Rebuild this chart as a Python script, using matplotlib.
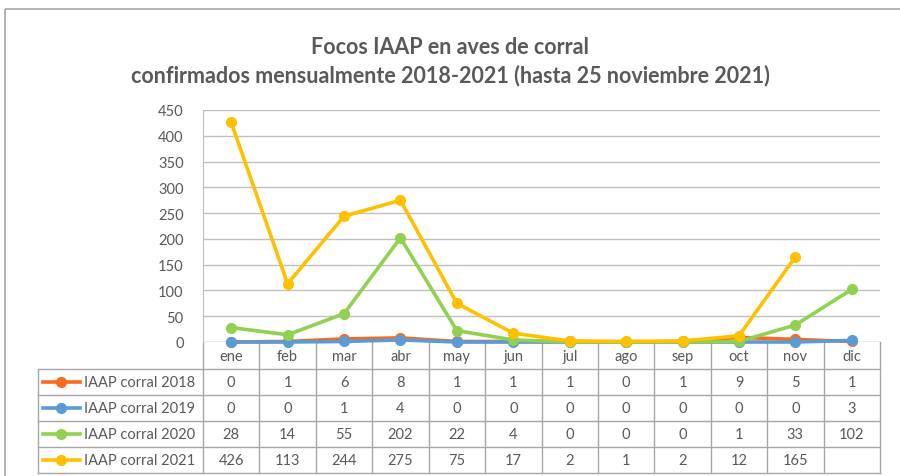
import numpy as np
import matplotlib.pyplot as plt
from matplotlib.patches import Rectangle
from matplotlib.lines import Line2D

months = ['ene', 'feb', 'mar', 'abr', 'may', 'jun', 'jul', 'ago', 'sep', 'oct', 'nov', 'dic']
labels = ['IAAP corral 2018', 'IAAP corral 2019', 'IAAP corral 2020', 'IAAP corral 2021']
y2018 = [0, 1, 6, 8, 1, 1, 1, 0, 1, 9, 5, 1]
y2019 = [0, 0, 1, 4, 0, 0, 0, 0, 0, 0, 0, 3]
y2020 = [28, 14, 55, 202, 22, 4, 0, 0, 0, 1, 33, 102]
y2021 = [426, 113, 244, 275, 75, 17, 2, 1, 2, 12, 165, None]
colors = ['#FA6A1C', '#5B9BD5', '#92D050', '#FFC000']
series = [y2018, y2019, y2020, y2021]

txt = '#595959'
grid = '#BFBFBF'
W, H = 900, 477

fig = plt.figure(figsize=(9, 4.77), dpi=100)
plt.rcParams['font.family'] = ['Lato', 'DejaVu Sans']

# overlay in pixel units for frame and table
ov = fig.add_axes([0, 0, 1, 1], zorder=0)
ov.set_xlim(0, W)
ov.set_ylim(H, 0)
ov.axis('off')
ov.add_patch(Rectangle((5, 10), 920, 500, fill=False, edgecolor='#A6A6A6', lw=1.2))

x0, x1, y0, y1 = 203, 880, 111, 343
ax = fig.add_axes([x0 / W, 1 - y1 / H, (x1 - x0) / W, (y1 - y0) / H], zorder=2)
ax.patch.set_alpha(0)
x = np.arange(len(months))
for vals, c, lab in zip(series, colors, labels):
    v = np.array([np.nan if a is None else a for a in vals], dtype=float)
    ax.plot(x, v, color=c, lw=2.6, marker='o', ms=7, label=lab, clip_on=False)
ax.set_xlim(-0.5, len(months) - 0.5)
ax.set_ylim(0, 450)
ax.set_yticks(np.arange(0, 451, 50))
ax.grid(axis='y', color=grid, lw=1)
ax.set_axisbelow(True)
for s in ['top', 'right', 'bottom']:
    ax.spines[s].set_visible(False)
ax.spines['left'].set_color(grid)
ax.tick_params(axis='y', colors=txt, labelsize=10.5, length=0, pad=14)
ax.tick_params(axis='x', length=0, labelbottom=False)
ax.axhline(0, color=grid, lw=1, zorder=1)

fig.text(0.5, 1 - 48 / H, 'Focos IAAP en aves de corral', ha='center', va='center',
         fontsize=15.5, fontweight='bold', color=txt)
fig.text(0.5, 1 - 76 / H, 'confirmados mensualmente 2018-2021 (hasta 25 noviembre 2021)',
         ha='center', va='center', fontsize=15.5, fontweight='bold', color=txt)

# data table
tl = '#A6A6A6'
row_h = 26
rows_top = 370
tab_left = 38
col_w = (x1 - x0) / len(months)
n_rows = len(series)
bottom = rows_top + n_rows * row_h
for i in range(len(months) + 1):
    xx = x0 + i * col_w
    ov.plot([xx, xx], [y1, bottom], color=tl, lw=1)
ov.plot([tab_left, tab_left], [rows_top, bottom], color=tl, lw=1)
for r in range(n_rows + 1):
    yy = rows_top + r * row_h
    ov.plot([tab_left, x1], [yy, yy], color=tl, lw=1)
for i, m in enumerate(months):
    ov.text(x0 + (i + 0.5) * col_w, y1 + 14, m, ha='center', va='center', fontsize=10.5, color=txt)
for r, (vals, c, lab) in enumerate(zip(series, colors, labels)):
    yc = rows_top + (r + 0.5) * row_h
    ov.add_line(Line2D([43, 80], [yc, yc], color=c, lw=2.6))
    ov.plot([61], [yc], 'o', color=c, ms=7)
    ov.text(84, yc, lab, ha='left', va='center', fontsize=10.5, color=txt)
    for i, v in enumerate(vals):
        if v is not None:
            ov.text(x0 + (i + 0.5) * col_w, yc, str(v), ha='center', va='center',
                    fontsize=10.5, color=txt)

fig.savefig('out.png', dpi=100)
